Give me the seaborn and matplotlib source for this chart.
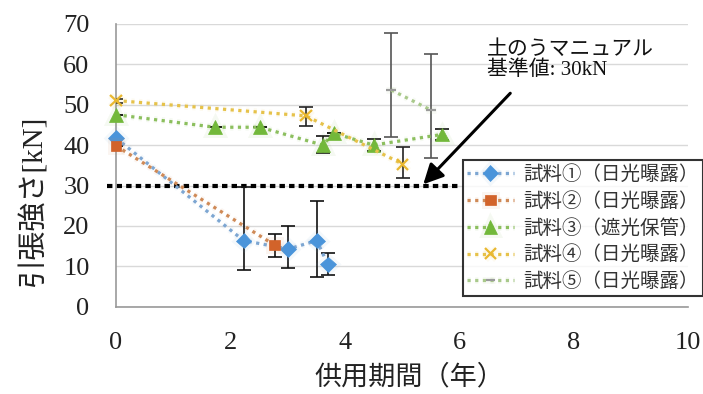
import matplotlib
matplotlib.use("Agg")
import matplotlib.pyplot as plt
import matplotlib.patheffects as pe
import seaborn as sns

# 供用期間 (年) と引張強さ [kN]、誤差範囲 (下限・上限)
s1_x = [0, 2.23, 3.01, 3.51, 3.70]
s1_y = [41.7, 16.4, 14.3, 16.4, 10.5]
s1_lo = [41.7, 9.1, 9.6, 7.3, 7.9]
s1_hi = [41.7, 29.6, 20.0, 26.2, 13.4]

s2_x = [0, 2.77]
s2_y = [39.8, 15.3]
s2_lo = [39.8, 12.3]
s2_hi = [39.8, 17.9]

s3_x = [0, 1.73, 2.52, 3.61, 3.81, 4.50, 5.69]
s3_y = [47.5, 44.4, 44.4, 40.0, 42.9, 40.0, 42.6]
s3_lo = [47.5, 44.4, 44.4, 38.1, 42.9, 38.6, 41.2]
s3_hi = [47.5, 44.4, 44.4, 42.3, 42.9, 41.5, 43.9]

s4_x = [0, 3.32, 5.01]
s4_y = [51.0, 47.2, 35.3]
s4_lo = [50.4, 44.7, 31.8]
s4_hi = [51.5, 49.5, 39.6]

s5_x = [4.81, 5.51]
s5_y = [53.6, 48.6]
s5_lo = [42.0, 36.9]
s5_hi = [67.8, 62.6]

labels = ["試料①（日光曝露）", "試料②（日光曝露）", "試料③（遮光保管）",
          "試料④（日光曝露）", "試料⑤（日光曝露）"]

threshold = 30
x_ticks = [0, 2, 4, 6, 8, 10]
y_ticks = [0, 10, 20, 30, 40, 50, 60, 70]

sns.set_theme(style="white")
serif_cjk = ["Liberation Serif", "Noto Sans CJK JP"]
plt.rcParams["font.family"] = serif_cjk

fig = plt.figure(figsize=(7.03, 3.94), dpi=100)
ax = fig.add_axes([0.165, 0.221, 0.814, 0.719])

series = [
    dict(x=s1_x, y=s1_y, lo=s1_lo, hi=s1_hi, line="#7DA6D2", mc="#4A94DA",
         marker="D", ms=8, ecol="#111111"),
    dict(x=s2_x, y=s2_y, lo=s2_lo, hi=s2_hi, line="#CF8A57", mc="#D2632A",
         marker="s", ms=7.5, ecol="#111111"),
    dict(x=s3_x, y=s3_y, lo=s3_lo, hi=s3_hi, line="#8CBF5E", mc="#72B83A",
         marker="^", ms=10, ecol="#111111"),
    dict(x=s4_x, y=s4_y, lo=s4_lo, hi=s4_hi, line="#E6C24A", mc="#E9B830",
         marker="x", ms=8, ecol="#222222"),
    dict(x=s5_x, y=s5_y, lo=s5_lo, hi=s5_hi, line="#A9C98B", mc="#9A9A9A",
         marker="_", ms=7, ecol="#555555"),
]

for s, lab in zip(series, labels):
    sns.lineplot(x=s["x"], y=s["y"], ax=ax, sort=False, color=s["line"],
                 linestyle=(0, (1, 1.4)), linewidth=2.3, marker=s["marker"],
                 markersize=s["ms"], markerfacecolor=s["mc"],
                 markeredgecolor=s["mc"],
                 markeredgewidth=1.6 if s["marker"] in "x_" else 0.5,
                 label=lab, clip_on=False, zorder=4,
                 path_effects=[pe.withStroke(linewidth=5, foreground=s["line"], alpha=0.08)])
    yerr = [[v - l for v, l in zip(s["y"], s["lo"])],
            [h - v for v, h in zip(s["y"], s["hi"])]]
    ax.errorbar(s["x"], s["y"], yerr=yerr, fmt="none", ecolor=s["ecol"],
                elinewidth=1.2, capsize=5, capthick=1.2, zorder=3)

# 基準値ライン
ax.plot([-0.15, 6.0], [threshold, threshold], color="black", linewidth=3.0,
        linestyle=(0, (1.3, 1.0)), solid_capstyle="butt", clip_on=False, zorder=2)

ax.annotate("", xy=(5.37, 30.3), xytext=(6.89, 52.8),
            arrowprops=dict(arrowstyle="-|>,head_length=1.0,head_width=0.5",
                            color="black", lw=2.2, shrinkA=0, shrinkB=0))
ax.text(6.49, 60.9, "土のうマニュアル\n基準値: 30kN", fontsize=15,
        ha="left", va="center", linespacing=1.1, color="#111111")

ax.set_xlim(0, 10)
ax.set_ylim(0, 70)
ax.set_xticks(x_ticks)
ax.set_yticks(y_ticks)
ax.tick_params(axis="both", labelsize=19, colors="#888888", labelcolor="#222222",
               length=8, width=1, direction="out")
ax.tick_params(axis="y", pad=11)
ax.tick_params(axis="x", pad=10)
ax.yaxis.grid(True, color="#D9D9D9", linewidth=1)
ax.set_axisbelow(True)
for side in ("top", "right"):
    ax.spines[side].set_visible(False)
for side in ("left", "bottom"):
    ax.spines[side].set_color("#999999")
    ax.spines[side].set_linewidth(1.2)

ax.set_xlabel("供用期間（年）", fontsize=19.5, color="#222222")
ax.set_ylabel("引張強さ[kN]", fontsize=21, color="#222222")
ax.xaxis.set_label_coords(0.512, -0.205)
ax.yaxis.set_label_coords(-0.12, 0.377)

leg = ax.legend(loc="upper left", bbox_to_anchor=(0.659, 0.594),
                bbox_transform=fig.transFigure, frameon=True, fancybox=False,
                prop={"family": ["Noto Sans CJK JP"], "size": 14},
                handlelength=2.4, handletextpad=0.5, labelspacing=0.3,
                borderpad=0.2, borderaxespad=0)
leg.get_frame().set_edgecolor("black")
leg.get_frame().set_linewidth(1.5)
for t in leg.get_texts():
    t.set_color("#333333")

fig.savefig("out.png", dpi=100)
